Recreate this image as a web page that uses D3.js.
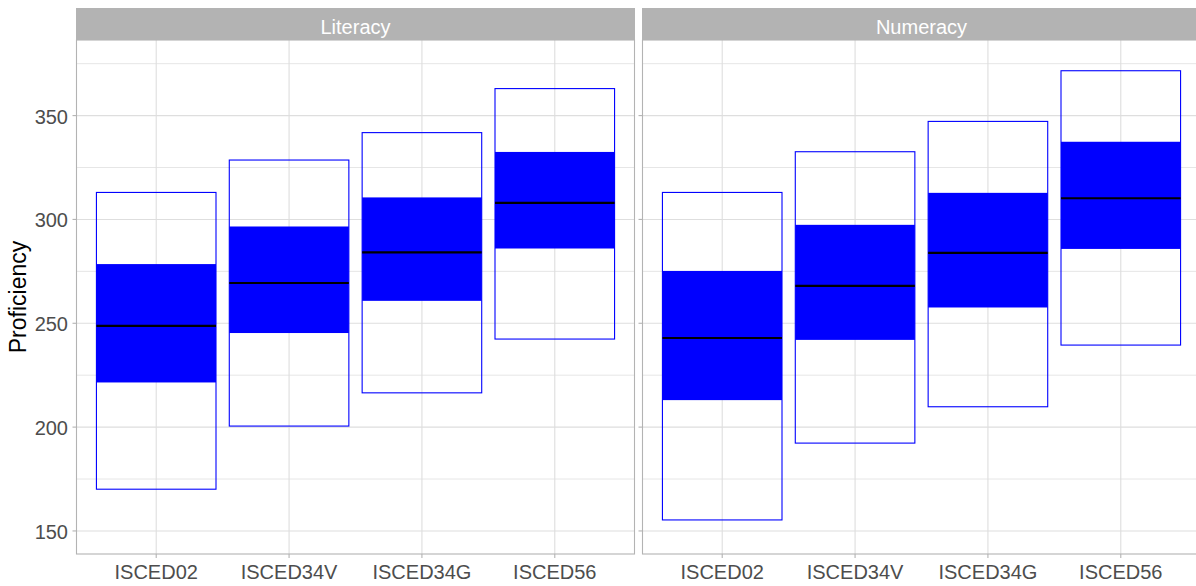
<!DOCTYPE html>
<html>
<head>
<meta charset="utf-8">
<script src="https://cdn.jsdelivr.net/npm/d3@7"></script>
<style>
  body { margin: 0; background: #fff; }
  text { font-family: "Liberation Sans", Arial, sans-serif; }
</style>
</head>
<body>
<div class="chart"></div>
<script>
// data
const panels = ["Literacy", "Numeracy"];
const levels = ["ISCED02", "ISCED34V", "ISCED34G", "ISCED56"];

// outer range (white box) and inner range (blue box) plus the median line
const litLow    = [170.1, 200.5, 216.5, 242.4];
const litQ1     = [221.5, 245.3, 260.8, 286.0];
const litMedian = [248.7, 269.4, 284.1, 308.0];
const litQ3     = [278.5, 296.6, 310.6, 332.5];
const litHigh   = [313.0, 328.6, 341.8, 363.0];

const numLow    = [155.3, 192.3, 209.8, 239.5];
const numQ1     = [213.0, 242.0, 257.6, 285.8];
const numMedian = [242.9, 268.0, 283.9, 310.2];
const numQ3     = [275.2, 297.4, 312.8, 337.4];
const numHigh   = [313.0, 332.6, 347.2, 371.6];

const yTicks = [150, 200, 250, 300, 350];
const yMinor = [175, 225, 275, 325, 375];

let chart = {};

function buildRows(low, q1, med, q3, high) {
    return levels.map((lv, i) => ({
        level: lv, low: low[i], q1: q1[i], median: med[i], q3: q3[i], high: high[i]
    }));
}

chart.data = [
    { name: panels[0], rows: buildRows(litLow, litQ1, litMedian, litQ3, litHigh) },
    { name: panels[1], rows: buildRows(numLow, numQ1, numMedian, numQ3, numHigh) }
];

chart.width = 1196;
chart.height = 586;
chart.panelW = 558;
chart.panelLeft = [76.5, 642.5];
chart.panelTop = 40;
chart.panelBottom = 554;
chart.stripTop = 8;
chart.fontSize = 20;

chart.svg = d3.select(".chart").append("svg")
    .attr("width", chart.width)
    .attr("height", chart.height);

chart.y = d3.scaleLinear()
    .domain([138.9, 386.4])
    .range([chart.panelBottom, chart.panelTop]);

// ggplot discrete axis: 0.6 units of expansion at each end
chart.x = d3.scalePoint()
    .domain(levels)
    .range([0, chart.panelW])
    .padding(0.6);
chart.unit = chart.x.step();
chart.xc = lv => chart.x(lv);
chart.boxW = chart.unit * 0.9;

chart.data.forEach((p, pi) => {
    const g = chart.svg.append("g")
        .attr("transform", `translate(${chart.panelLeft[pi]},0)`);

    // minor grid
    g.selectAll(".minor").data(yMinor).enter().append("line")
        .attr("x1", 0).attr("x2", chart.panelW)
        .attr("y1", d => chart.y(d)).attr("y2", d => chart.y(d))
        .attr("stroke", "#e6e6e6").attr("stroke-width", 1);

    // major grid
    g.selectAll(".major").data(yTicks).enter().append("line")
        .attr("x1", 0).attr("x2", chart.panelW)
        .attr("y1", d => chart.y(d)).attr("y2", d => chart.y(d))
        .attr("stroke", "#dedede").attr("stroke-width", 1.1);

    g.selectAll(".vgrid").data(levels).enter().append("line")
        .attr("x1", d => chart.xc(d)).attr("x2", d => chart.xc(d))
        .attr("y1", chart.panelTop).attr("y2", chart.panelBottom)
        .attr("stroke", "#dedede").attr("stroke-width", 1.1);

    // outer boxes
    g.selectAll(".outer").data(p.rows).enter().append("rect")
        .attr("x", d => chart.xc(d.level) - chart.boxW / 2)
        .attr("width", chart.boxW)
        .attr("y", d => chart.y(d.high))
        .attr("height", d => chart.y(d.low) - chart.y(d.high))
        .attr("fill", "none")
        .attr("stroke", "#0000ff").attr("stroke-width", 1.1);

    // inner boxes
    g.selectAll(".inner").data(p.rows).enter().append("rect")
        .attr("x", d => chart.xc(d.level) - chart.boxW / 2)
        .attr("width", chart.boxW)
        .attr("y", d => chart.y(d.q3))
        .attr("height", d => chart.y(d.q1) - chart.y(d.q3))
        .attr("fill", "#0000ff");

    // medians
    g.selectAll(".median").data(p.rows).enter().append("line")
        .attr("x1", d => chart.xc(d.level) - chart.boxW / 2)
        .attr("x2", d => chart.xc(d.level) + chart.boxW / 2)
        .attr("y1", d => chart.y(d.median)).attr("y2", d => chart.y(d.median))
        .attr("stroke", "#000").attr("stroke-width", 2.2);

    // panel border
    g.append("rect")
        .attr("x", 0).attr("y", chart.panelTop)
        .attr("width", chart.panelW).attr("height", chart.panelBottom - chart.panelTop)
        .attr("fill", "none").attr("stroke", "#b3b3b3").attr("stroke-width", 1.1);

    // strip
    g.append("rect")
        .attr("x", -0.5).attr("y", chart.stripTop)
        .attr("width", chart.panelW + 1).attr("height", chart.panelTop - chart.stripTop)
        .attr("fill", "#b3b3b3");
    g.append("text")
        .attr("x", chart.panelW / 2).attr("y", 34)
        .attr("text-anchor", "middle")
        .attr("fill", "#fff").attr("font-size", chart.fontSize)
        .text(p.name);

    // x axis ticks and labels
    g.selectAll(".xtick").data(levels).enter().append("line")
        .attr("x1", d => chart.xc(d)).attr("x2", d => chart.xc(d))
        .attr("y1", chart.panelBottom).attr("y2", chart.panelBottom + 4)
        .attr("stroke", "#b3b3b3").attr("stroke-width", 1.1);
    g.selectAll(".xlab").data(levels).enter().append("text")
        .attr("x", d => chart.xc(d)).attr("y", 579)
        .attr("text-anchor", "middle")
        .attr("fill", "#4d4d4d").attr("font-size", chart.fontSize)
        .text(d => d);

    // y axis ticks
    g.selectAll(".ytick").data(yTicks).enter().append("line")
        .attr("x1", -4).attr("x2", 0)
        .attr("y1", d => chart.y(d)).attr("y2", d => chart.y(d))
        .attr("stroke", "#b3b3b3").attr("stroke-width", 1.1);
});

// y axis labels on the left panel only
chart.svg.selectAll(".ylab").data(yTicks).enter().append("text")
    .attr("x", 68).attr("y", d => chart.y(d) + 8)
    .attr("text-anchor", "end")
    .attr("fill", "#4d4d4d").attr("font-size", chart.fontSize)
    .text(d => d);

chart.svg.append("text")
    .attr("transform", `translate(26,${(chart.panelTop + chart.panelBottom) / 2}) rotate(-90)`)
    .attr("text-anchor", "middle")
    .attr("fill", "#000").attr("font-size", 23)
    .text("Proficiency");
</script>
</body>
</html>
